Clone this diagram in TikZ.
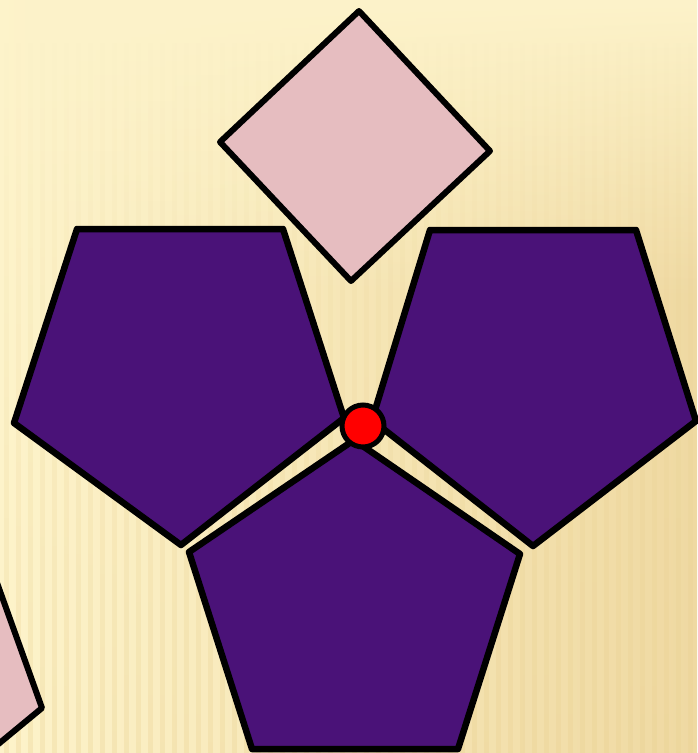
\documentclass[tikz,border=0pt]{standalone}
\usetikzlibrary{fadings}
\definecolor{bgA}{HTML}{FDF3CA}
\definecolor{bgB}{HTML}{EFD9A2}
\definecolor{stripe}{HTML}{E9D08F}
\definecolor{felt}{HTML}{4A1278}
\definecolor{pinkfelt}{HTML}{E6BDC0}
\definecolor{dotred}{HTML}{FF0000}
\tikzset{
  pent/.style={fill=felt, draw=black, line width=6.5pt, line join=round},
  sq/.style={fill=pinkfelt, draw=black, line width=6pt, line join=round},
  vertexdot/.style={circle, fill=dotred, draw=black, line width=5pt, minimum size=42pt, inner sep=0pt}
}
\begin{document}
\begin{tikzpicture}[x=1pt,y=-1pt]
\useasboundingbox (0,0) rectangle (697,753);
% background
\shade[left color=bgA, right color=bgB] (0,0) rectangle (697,753);
\fill[bgA, path fading=south] (0,0) rectangle (697,300);
\foreach \i in {0,...,57} {
  \fill[stripe, opacity=0.3, path fading=north] ({\i*12+4},40) rectangle ({\i*12+9},753);
}
% top diamond
\draw[sq] (359,11) -- (490,151) -- (351,281) -- (220,142) -- cycle;
% partial diamond bottom left
\draw[sq] (-4,580) -- (42,708) -- (-4,746) -- cycle;
% pentagons
\draw[pent] (77,229) -- (283,229) -- (344,418) -- (181,545) -- (14,423) -- cycle;
\draw[pent] (430,230) -- (636,230) -- (696,421) -- (533,546) -- (372,420) -- cycle;
\draw[pent] (354,440) -- (520,554) -- (458,749) -- (252,749) -- (189,552) -- cycle;
% vertex dot
\node[vertexdot] (v) at (363,426) {};
\end{tikzpicture}
\end{document}
